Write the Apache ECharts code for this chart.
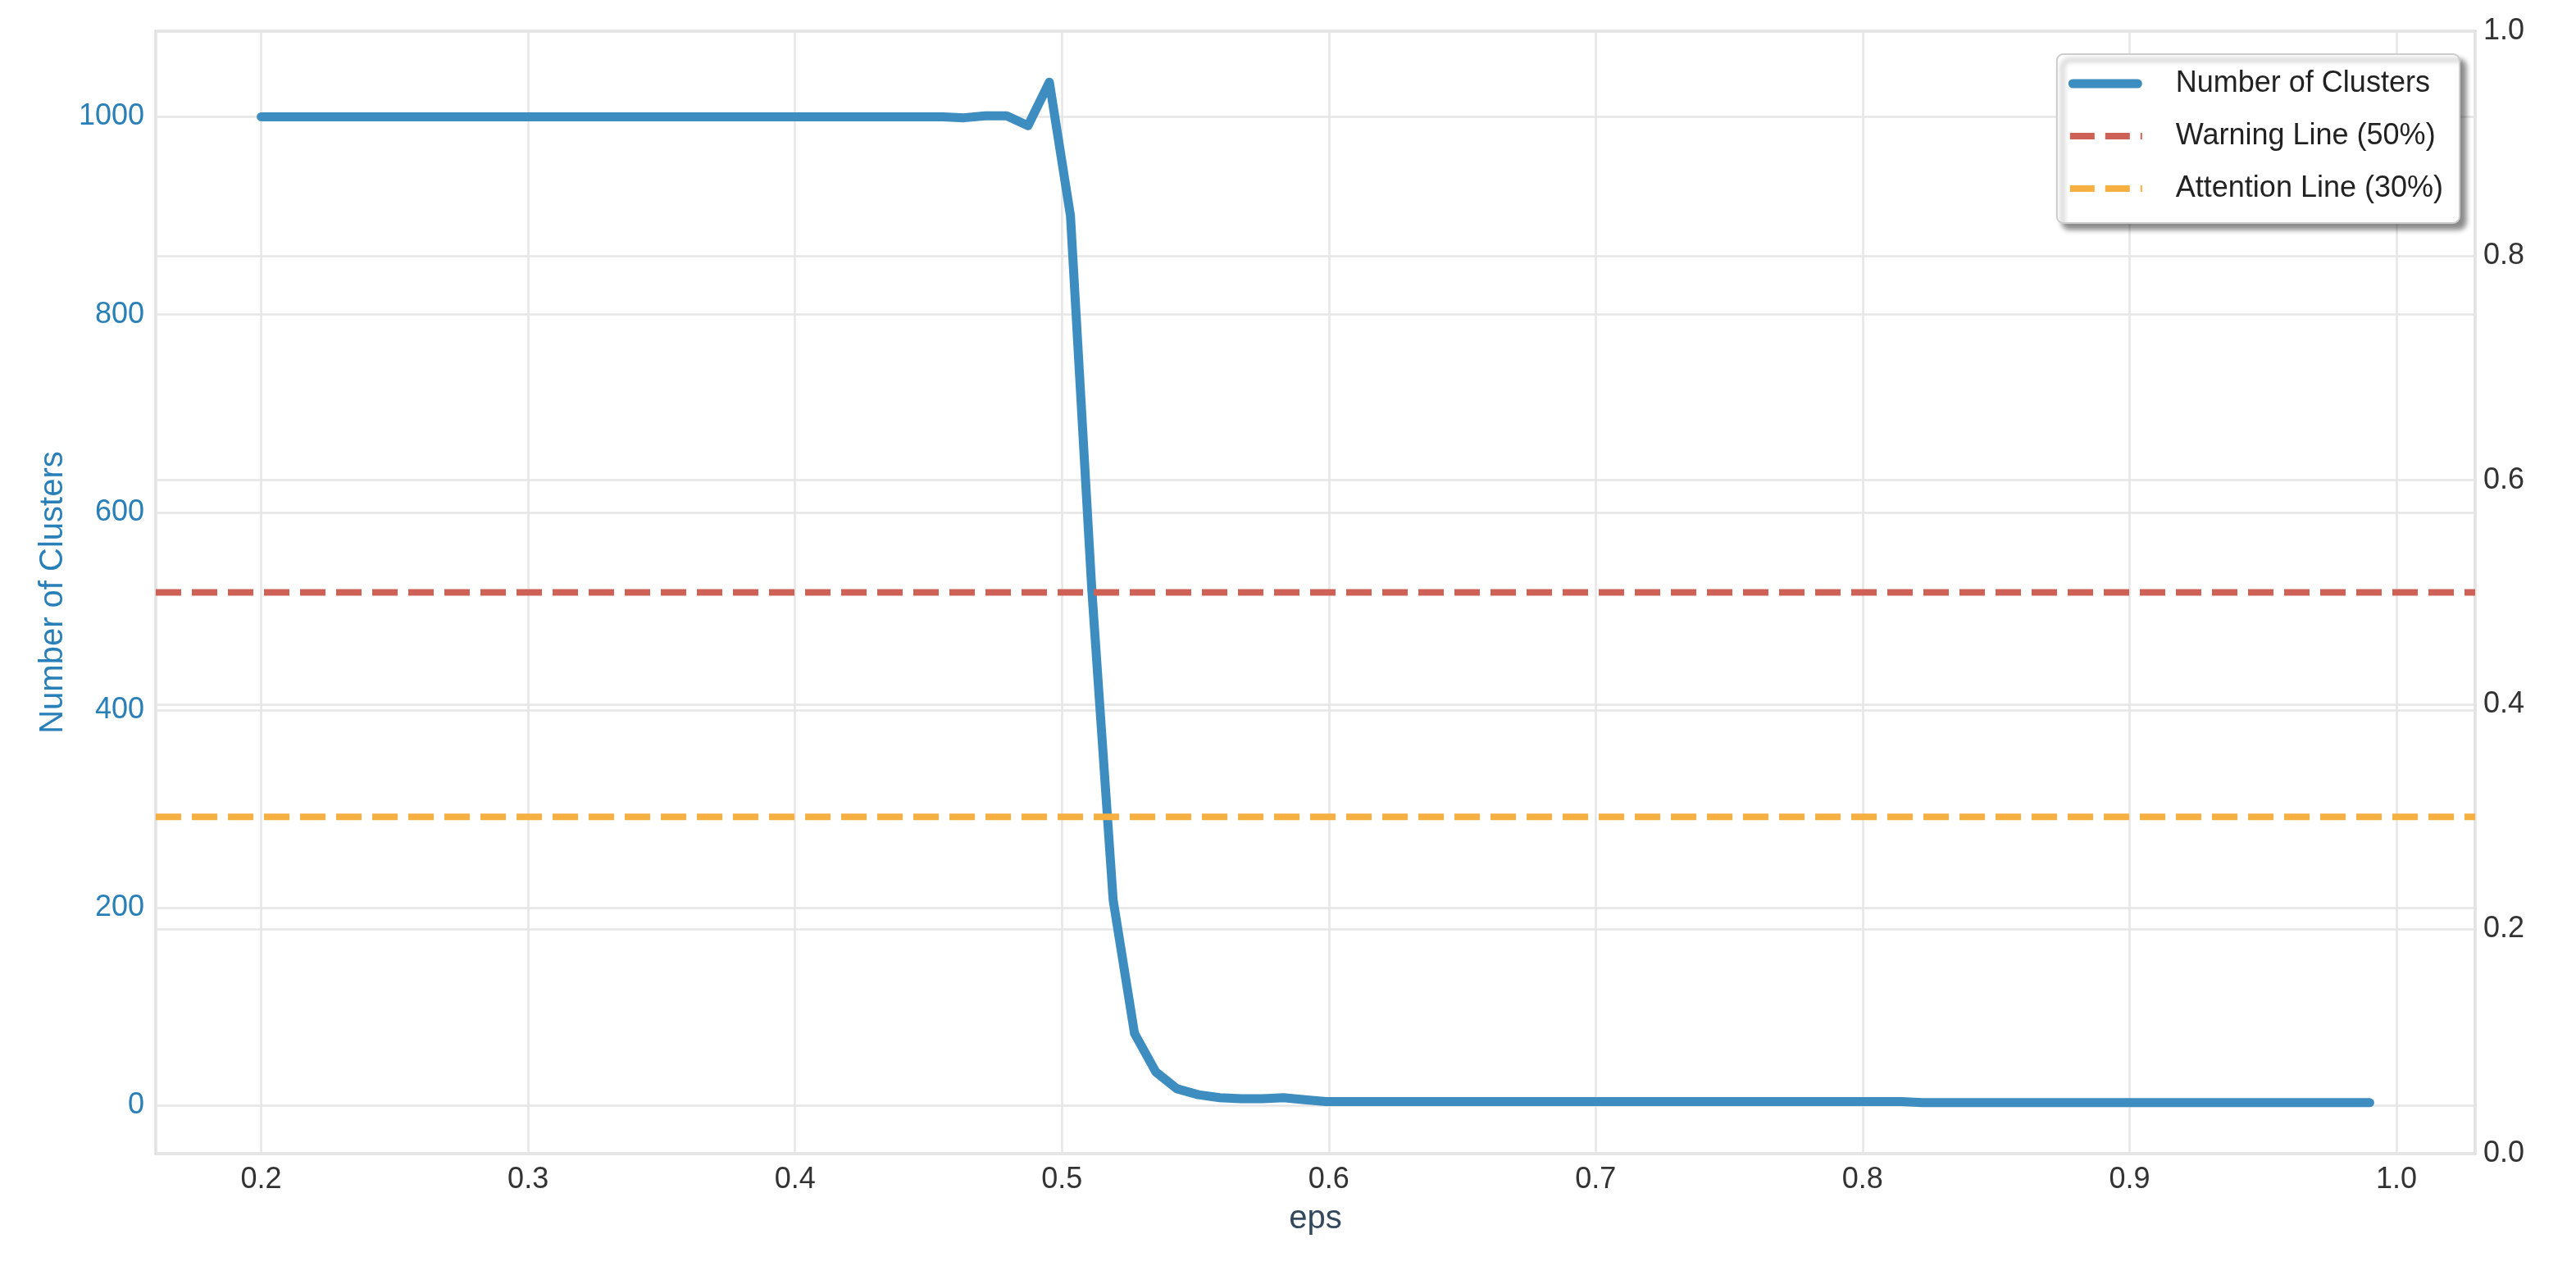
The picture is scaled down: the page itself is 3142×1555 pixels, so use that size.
<!DOCTYPE html>
<html>
<head>
<meta charset="utf-8">
<script src="https://cdn.jsdelivr.net/npm/echarts@6/dist/echarts.min.js"></script>
<style>
html,body{margin:0;padding:0;background:#fff;}
#chart{width:3142px;height:1555px;}
</style>
</head>
<body>
<div id="chart"></div>
<script>
const epsValues = [
0.2000,0.2080,0.2160,0.2239,0.2319,0.2399,0.2479,0.2559,0.2638,0.2718,
0.2798,0.2878,0.2958,0.3037,0.3117,0.3197,0.3277,0.3357,0.3436,0.3516,
0.3596,0.3676,0.3756,0.3835,0.3915,0.3995,0.4075,0.4155,0.4234,0.4314,
0.4394,0.4474,0.4554,0.4633,0.4713,0.4793,0.4873,0.4953,0.5032,0.5112,
0.5192,0.5272,0.5352,0.5431,0.5511,0.5591,0.5671,0.5751,0.5830,0.5910,
0.5990,0.6070,0.6150,0.6229,0.6309,0.6389,0.6469,0.6549,0.6628,0.6708,
0.6788,0.6868,0.6948,0.7027,0.7107,0.7187,0.7267,0.7347,0.7426,0.7506,
0.7586,0.7666,0.7746,0.7825,0.7905,0.7985,0.8065,0.8145,0.8224,0.8304,
0.8384,0.8464,0.8544,0.8623,0.8703,0.8783,0.8863,0.8942,0.9022,0.9102,
0.9182,0.9262,0.9341,0.9421,0.9501,0.9581,0.9661,0.9740,0.9820,0.9900
];
const clusterCounts = [
1000,1000,1000,1000,1000,1000,1000,1000,1000,1000,
1000,1000,1000,1000,1000,1000,1000,1000,1000,1000,
1000,1000,1000,1000,1000,1000,1000,1000,1000,1000,
1000,1000,1000,999,1001,1001,991,1035,900,522,
208,73,34,17,11,8,7,7,8,6,
4,4,4,4,4,4,4,4,4,4,
4,4,4,4,4,4,4,4,4,4,
4,4,4,4,4,4,4,4,3,3,
3,3,3,3,3,3,3,3,3,3,
3,3,3,3,3,3,3,3,3,3
];
const seriesNames = ['Number of Clusters', 'Warning Line (50%)', 'Attention Line (30%)'];
const warningLevel = 0.5;
const attentionLevel = 0.3;

const X_MIN = 0.1605, X_MAX = 1.0295;
const FONT = "'Liberation Sans', Arial, sans-serif";

// legend icon shapes (90 x 12 box; tiny corner marks fix the bounding box)
const BOX = 'M0 0 L0.05 0 L0 0.05 Z M90 12 L89.95 12 L90 11.95 Z ';
const SOLID_ICON = 'path://' + BOX + 'M5.5 0.5 L84.5 0.5 A5.5 5.5 0 0 1 84.5 11.5 L5.5 11.5 A5.5 5.5 0 0 1 5.5 0.5 Z';
const DASH_ICON = 'path://' + BOX + 'M2 2 L32 2 L32 10 L2 10 Z M45 2 L75 2 L75 10 L45 10 Z M88 2 L90 2 L90 10 L88 10 Z';

const chart = echarts.init(document.getElementById('chart'), null, {renderer: 'canvas'});
const option = {
  animation: false,
  backgroundColor: '#ffffff',
  grid: {
    left: 190, right: 123, top: 38, bottom: 148,
    show: true, borderColor: '#cfcfcf', borderWidth: 3, backgroundColor: 'transparent',
    containLabel: false
  },
  legend: {
    orient: 'vertical',
    right: 142, top: 66,
    data: [
      {name: seriesNames[0], icon: SOLID_ICON},
      {name: seriesNames[1], icon: DASH_ICON},
      {name: seriesNames[2], icon: DASH_ICON}
    ],
    itemWidth: 90, itemHeight: 12, itemGap: 20,
    padding: [14, 20, 20, 14],
    backgroundColor: '#ffffff',
    borderColor: '#cccccc', borderWidth: 2, borderRadius: 8,
    shadowColor: 'rgba(0,0,0,0.45)', shadowBlur: 6, shadowOffsetX: 7, shadowOffsetY: 7,
    textStyle: {fontFamily: FONT, fontSize: 36, color: '#222', lineHeight: 44, padding: [0,0,0,36]}
  },
  xAxis: {
    type: 'value', min: X_MIN, max: X_MAX, splitNumber: 8,
    name: 'eps', nameLocation: 'middle', nameGap: 60,
    nameTextStyle: {fontFamily: FONT, fontSize: 40, color: '#34495e'},
    axisLine: {show: false}, axisTick: {show: false},
    axisLabel: {fontFamily: FONT, fontSize: 36, color: '#333', margin: 14,
      showMinLabel: false, showMaxLabel: false,
      formatter: v => Number(v).toFixed(1)},
    splitLine: {show: true, lineStyle: {color: '#e6e6e6', width: 2.5}}
  },
  yAxis: [
    {
      type: 'value', min: -48.6, max: 1086.6, splitNumber: 5, position: 'left',
      name: 'Number of Clusters', nameLocation: 'middle', nameGap: 100, nameRotate: 90,
      nameTextStyle: {fontFamily: FONT, fontSize: 40, color: '#2980b9'},
      axisLine: {show: false}, axisTick: {show: false},
      axisLabel: {fontFamily: FONT, fontSize: 36, color: '#2980b9', margin: 14,
        showMinLabel: false, showMaxLabel: false,
        formatter: v => String(Math.round(v))},
      splitLine: {show: true, lineStyle: {color: '#e6e6e6', width: 2.5}}
    },
    {
      type: 'value', min: 0, max: 1, interval: 0.2, position: 'right',
      axisLine: {show: false}, axisTick: {show: false},
      axisLabel: {fontFamily: FONT, fontSize: 36, color: '#333', margin: 10,
        formatter: v => Number(v).toFixed(1)},
      splitLine: {show: true, lineStyle: {color: '#e6e6e6', width: 2.5}}
    }
  ],
  series: [
    {
      name: seriesNames[0], type: 'line', xAxisIndex: 0, yAxisIndex: 0,
      data: epsValues.map((x, i) => [x, clusterCounts[i]]),
      showSymbol: false, symbol: 'none', smooth: false,
      lineStyle: {color: '#3e8dc0', width: 11, cap: 'round', join: 'round'},
      itemStyle: {color: '#3e8dc0'}, z: 3
    },
    {
      name: seriesNames[1], type: 'line', yAxisIndex: 1,
      data: [[X_MIN, warningLevel], [X_MAX, warningLevel]],
      showSymbol: false, symbol: 'none',
      lineStyle: {color: '#cd6155', width: 8, type: [31, 13]},
      itemStyle: {color: '#cd6155'}, z: 4
    },
    {
      name: seriesNames[2], type: 'line', yAxisIndex: 1,
      data: [[X_MIN, attentionLevel], [X_MAX, attentionLevel]],
      showSymbol: false, symbol: 'none',
      lineStyle: {color: '#f5b041', width: 8, type: [31, 13]},
      itemStyle: {color: '#f5b041'}, z: 4
    }
  ]
};
chart.setOption(option);
</script>
</body>
</html>
